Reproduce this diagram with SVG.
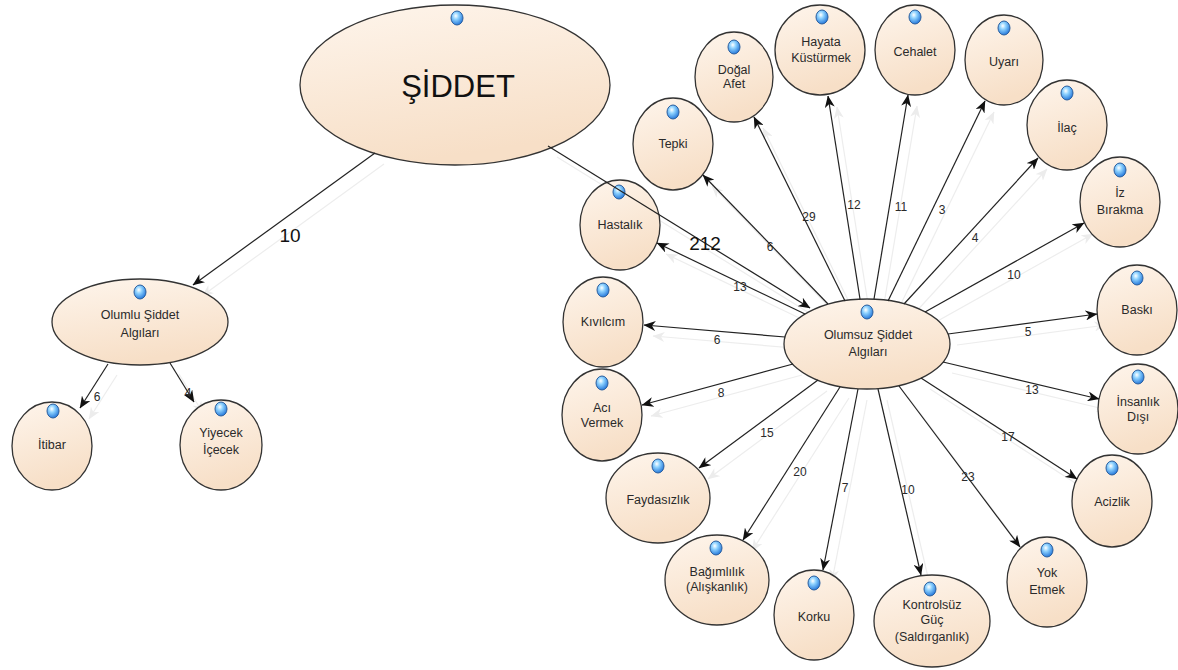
<svg xmlns="http://www.w3.org/2000/svg" xmlns:xlink="http://www.w3.org/1999/xlink" width="1178" height="670" viewBox="0 0 1178 670">
<defs>
<linearGradient id="nodeFill" x1="0" y1="0" x2="0.3" y2="1">
<stop offset="0" stop-color="#fef5ec"/>
<stop offset="1" stop-color="#f7dfc7"/>
</linearGradient>
<radialGradient id="dotFill" cx="0.4" cy="0.35" r="0.7">
<stop offset="0" stop-color="#ffffff"/>
<stop offset="0.35" stop-color="#8fd3ff"/>
<stop offset="1" stop-color="#1c6fd6"/>
</radialGradient>
<ellipse id="dot" cx="0" cy="0" rx="6" ry="7" fill="url(#dotFill)" stroke="#2b5f9e" stroke-width="1"/>
<marker id="arr" viewBox="0 0 12 10" refX="11.5" refY="5" markerWidth="12" markerHeight="10" markerUnits="userSpaceOnUse" orient="auto">
<path d="M0,0 L12,5 L0,10 L3.5,5 z" fill="#111"/>
</marker>
<marker id="arrS" viewBox="0 0 12 10" refX="11.5" refY="5" markerWidth="12" markerHeight="10" markerUnits="userSpaceOnUse" orient="auto">
<path d="M0,0 L12,5 L0,10 L3.5,5 z" fill="#ececec"/>
</marker>
</defs>
<style>
.node{fill:url(#nodeFill);stroke:#333;stroke-width:1.3}
.t{font-family:"Liberation Sans",Arial,sans-serif;font-size:12.5px;fill:#2a2a2a;text-anchor:middle}
.big{font-size:31px;fill:#111}
.el{font-family:"Liberation Sans",Arial,sans-serif;font-size:12px;fill:#2a2a2a;text-anchor:middle}
.elb{font-size:19px;fill:#111}
.edge{fill:none;stroke-width:1.2}
</style>
<rect width="1178" height="670" fill="#ffffff"/>

<!-- connector shadows -->
<use href="#edge-lines" xlink:href="#edge-lines" transform="translate(9,11)" stroke="#ededed" marker-end="url(#arrS)"/>

<!-- nodes -->
<g id="n-siddet"><ellipse class="node" cx="455" cy="85" rx="155" ry="80"/><use href="#dot" xlink:href="#dot" x="457" y="18"/><text class="t big" x="458" y="97">ŞİDDET</text></g>
<g id="n-olumlu"><ellipse class="node" cx="140" cy="322" rx="88" ry="43"/><use href="#dot" xlink:href="#dot" x="140" y="292"/><text class="t" x="140" y="319">Olumlu Şiddet</text><text class="t" x="140" y="337">Algıları</text></g>
<g id="n-itibar"><ellipse class="node" cx="52" cy="446" rx="40" ry="44"/><use href="#dot" xlink:href="#dot" x="53" y="411"/><text class="t" x="52" y="449">İtibar</text></g>
<g id="n-yiyecek"><ellipse class="node" cx="221" cy="445" rx="41" ry="45"/><use href="#dot" xlink:href="#dot" x="221" y="409"/><text class="t" x="221" y="437">Yiyecek</text><text class="t" x="221" y="454">İçecek</text></g>
<g id="n-olumsuz"><ellipse class="node" cx="867" cy="344" rx="83" ry="45"/><use href="#dot" xlink:href="#dot" x="867" y="312"/><text class="t" x="868" y="339">Olumsuz Şiddet</text><text class="t" x="868" y="356">Algıları</text></g>
<g id="n-hastalik"><ellipse class="node" cx="620" cy="225" rx="40" ry="45"/><use href="#dot" xlink:href="#dot" x="619" y="192"/><text class="t" x="620" y="229">Hastalık</text></g>
<g id="n-tepki"><ellipse class="node" cx="673" cy="144" rx="40" ry="46"/><use href="#dot" xlink:href="#dot" x="673" y="112"/><text class="t" x="673" y="148">Tepki</text></g>
<g id="n-dogal"><ellipse class="node" cx="734" cy="77" rx="39" ry="45"/><use href="#dot" xlink:href="#dot" x="734" y="47"/><text class="t" x="734" y="74">Doğal</text><text class="t" x="734" y="88">Afet</text></g>
<g id="n-hayata"><ellipse class="node" cx="820" cy="50" rx="45" ry="45"/><use href="#dot" xlink:href="#dot" x="822" y="17"/><text class="t" x="821" y="46">Hayata</text><text class="t" x="821" y="62">Küstürmek</text></g>
<g id="n-cehalet"><ellipse class="node" cx="915" cy="50" rx="40" ry="45"/><use href="#dot" xlink:href="#dot" x="915" y="17"/><text class="t" x="915" y="56">Cehalet</text></g>
<g id="n-uyari"><ellipse class="node" cx="1004" cy="60" rx="39" ry="45"/><use href="#dot" xlink:href="#dot" x="1004" y="28"/><text class="t" x="1004" y="66">Uyarı</text></g>
<g id="n-ilac"><ellipse class="node" cx="1067" cy="125" rx="40" ry="45"/><use href="#dot" xlink:href="#dot" x="1067" y="93"/><text class="t" x="1067" y="132">İlaç</text></g>
<g id="n-iz"><ellipse class="node" cx="1120" cy="202" rx="40" ry="45"/><use href="#dot" xlink:href="#dot" x="1120" y="170"/><text class="t" x="1120" y="197">İz</text><text class="t" x="1120" y="214">Bırakma</text></g>
<g id="n-baski"><ellipse class="node" cx="1137" cy="310" rx="40" ry="45"/><use href="#dot" xlink:href="#dot" x="1137" y="278"/><text class="t" x="1137" y="314">Baskı</text></g>
<g id="n-insanlik"><ellipse class="node" cx="1138" cy="409" rx="40" ry="45"/><use href="#dot" xlink:href="#dot" x="1138" y="377"/><text class="t" x="1138" y="406">İnsanlık</text><text class="t" x="1138" y="421">Dışı</text></g>
<g id="n-acizlik"><ellipse class="node" cx="1112" cy="501" rx="40" ry="46"/><use href="#dot" xlink:href="#dot" x="1112" y="468"/><text class="t" x="1112" y="506">Acizlik</text></g>
<g id="n-yok"><ellipse class="node" cx="1047" cy="582" rx="40" ry="45"/><use href="#dot" xlink:href="#dot" x="1047" y="550"/><text class="t" x="1047" y="577">Yok</text><text class="t" x="1047" y="594">Etmek</text></g>
<g id="n-kontrolsuz"><ellipse class="node" cx="932" cy="621" rx="58" ry="46"/><use href="#dot" xlink:href="#dot" x="930" y="589"/><text class="t" x="932" y="609">Kontrolsüz</text><text class="t" x="932" y="624">Güç</text><text class="t" x="932" y="641">(Saldırganlık)</text></g>
<g id="n-korku"><ellipse class="node" cx="814" cy="615" rx="40" ry="45"/><use href="#dot" xlink:href="#dot" x="814" y="583"/><text class="t" x="814" y="621">Korku</text></g>
<g id="n-bagimlilik"><ellipse class="node" cx="717" cy="580" rx="52" ry="45"/><use href="#dot" xlink:href="#dot" x="716" y="548"/><text class="t" x="717" y="576">Bağımlılık</text><text class="t" x="717" y="591">(Alışkanlık)</text></g>
<g id="n-faydasizlik"><ellipse class="node" cx="658" cy="498" rx="52" ry="45"/><use href="#dot" xlink:href="#dot" x="658" y="466"/><text class="t" x="658" y="504">Faydasızlık</text></g>
<g id="n-aci"><ellipse class="node" cx="602" cy="415" rx="40" ry="46"/><use href="#dot" xlink:href="#dot" x="602" y="383"/><text class="t" x="602" y="412">Acı</text><text class="t" x="602" y="427">Vermek</text></g>
<g id="n-kivilcim"><ellipse class="node" cx="603" cy="322" rx="40" ry="45"/><use href="#dot" xlink:href="#dot" x="603" y="290"/><text class="t" x="603" y="326">Kıvılcım</text></g>

<!-- connectors -->
<g id="connectors" stroke="#222" marker-end="url(#arr)">
<g id="edge-lines">
<line class="edge" x1="375" y1="153" x2="193" y2="285"/>
<line class="edge" x1="548" y1="146" x2="810" y2="308"/>
<line class="edge" x1="108" y1="364" x2="80" y2="408"/>
<line class="edge" x1="170" y1="363" x2="194" y2="402"/>
<line class="edge" x1="805" y1="314" x2="657" y2="243"/>
<line class="edge" x1="828" y1="304" x2="703" y2="175"/>
<line class="edge" x1="845" y1="301" x2="754" y2="117"/>
<line class="edge" x1="860" y1="299" x2="828" y2="96"/>
<line class="edge" x1="874" y1="299" x2="908" y2="95"/>
<line class="edge" x1="888" y1="301" x2="985" y2="101"/>
<line class="edge" x1="904" y1="304" x2="1038" y2="158"/>
<line class="edge" x1="925" y1="312" x2="1084" y2="223"/>
<line class="edge" x1="948" y1="334" x2="1097" y2="314"/>
<line class="edge" x1="943" y1="362" x2="1099" y2="399"/>
<line class="edge" x1="921" y1="378" x2="1077" y2="479"/>
<line class="edge" x1="899" y1="386" x2="1020" y2="547"/>
<line class="edge" x1="878" y1="389" x2="921" y2="575"/>
<line class="edge" x1="858" y1="389" x2="823" y2="570"/>
<line class="edge" x1="840" y1="387" x2="743" y2="540"/>
<line class="edge" x1="818" y1="380" x2="699" y2="468"/>
<line class="edge" x1="793" y1="364" x2="642" y2="405"/>
<line class="edge" x1="785" y1="337" x2="644" y2="325"/>
</g>
</g>

<!-- connector labels -->
<g id="edge-labels">
<text class="el elb" x="290" y="242">10</text>
<text class="el elb" x="705" y="250">212</text>
<text class="el" x="97" y="401">6</text>
<text class="el" x="188" y="397">4</text>
<text class="el" x="740" y="291">13</text>
<text class="el" x="770" y="251">6</text>
<text class="el" x="809" y="221">29</text>
<text class="el" x="854" y="209">12</text>
<text class="el" x="901" y="211">11</text>
<text class="el" x="942" y="214">3</text>
<text class="el" x="975" y="242">4</text>
<text class="el" x="1014" y="279">10</text>
<text class="el" x="1028" y="336">5</text>
<text class="el" x="1032" y="394">13</text>
<text class="el" x="1008" y="441">17</text>
<text class="el" x="968" y="481">23</text>
<text class="el" x="908" y="494">10</text>
<text class="el" x="845" y="492">7</text>
<text class="el" x="800" y="476">20</text>
<text class="el" x="767" y="437">15</text>
<text class="el" x="721" y="397">8</text>
<text class="el" x="717" y="344">6</text>
</g>
</svg>
